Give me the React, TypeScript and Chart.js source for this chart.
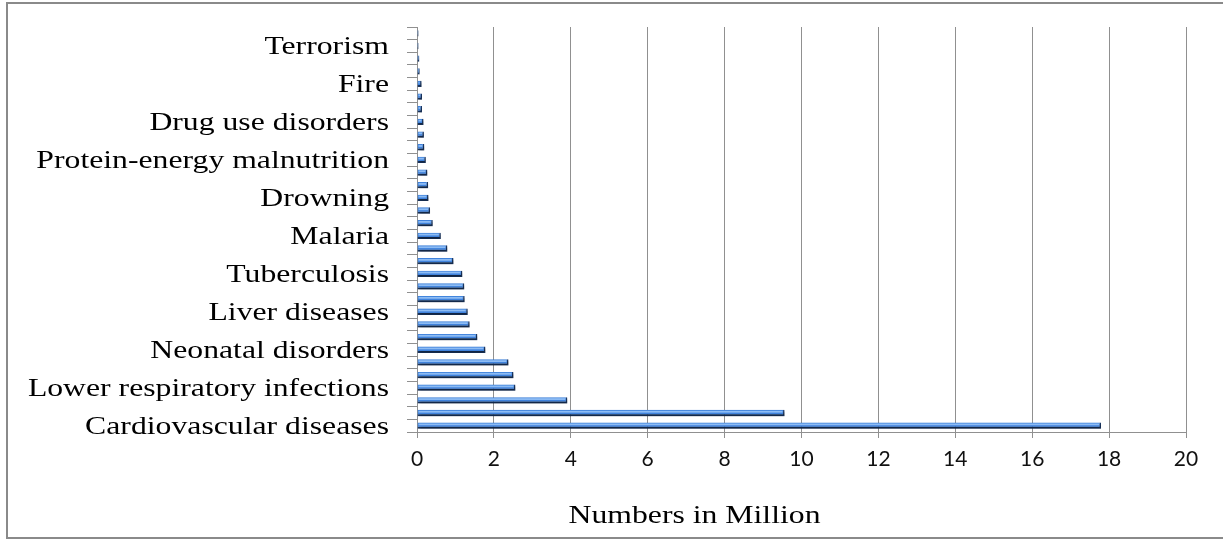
import React, { useEffect, useRef } from "react";
import { Chart, registerables } from "chart.js";

Chart.register(...registerables);

// Causes of death, listed from the bottom bar upwards
const causes = [
  "Cardiovascular diseases",
  "Cancers",
  "Respiratory diseases",
  "Lower respiratory infections",
  "Dementia",
  "Digestive diseases",
  "Neonatal disorders",
  "Diarrheal diseases",
  "Diabetes",
  "Liver diseases",
  "Road injuries",
  "Kidney disease",
  "Tuberculosis",
  "HIV/AIDS",
  "Suicide",
  "Malaria",
  "Homicide",
  "Parkinson disease",
  "Drowning",
  "Meningitis",
  "Nutritional deficiencies",
  "Protein-energy malnutrition",
  "Maternal disorders",
  "Alcohol use disorders",
  "Drug use disorders",
  "Hepatitis",
  "Conflict",
  "Fire",
  "Poisonings",
  "Heat (hot and cold exposure)",
  "Terrorism",
  "Natural disasters",
];

// Deaths per cause, in millions
const deathsMillions = [
  17.79, 9.56, 3.91, 2.56, 2.51, 2.38, 1.78, 1.57, 1.37, 1.32, 1.24, 1.23,
  1.18, 0.95, 0.79, 0.62, 0.41, 0.34, 0.3, 0.29, 0.27, 0.23, 0.19, 0.18, 0.17,
  0.13, 0.13, 0.12, 0.07, 0.06, 0.04, 0.04,
];

// Only every third cause gets a written label on the axis
const labelStep = 3;
const axisTitle = "Numbers in Million";
const xMin = 0;
const xMax = 20;
const xStep = 2;

const SERIF = '"Liberation Serif", "Times New Roman", serif';
const STRETCH = 1.22;
const GRID = "#909090";
const TEXT = "#000000";

const barStyle = {
  id: "barStyle",
  beforeDatasetsDraw(chart: any) {
    const ctx = chart.ctx;
    ctx.save();
    ctx.shadowColor = "rgba(0,0,0,0.45)";
    ctx.shadowBlur = 3;
    ctx.shadowOffsetX = 1.5;
    ctx.shadowOffsetY = 2;
  },
  afterDatasetsDraw(chart: any) {
    const ctx = chart.ctx;
    ctx.restore();
    const meta = chart.getDatasetMeta(0);
    ctx.save();
    meta.data.forEach((el: any) => {
      const p = el.getProps(["x", "y", "base", "height"], true);
      const left = Math.min(p.x, p.base);
      const w = Math.abs(p.x - p.base) - 2;
      if (w <= 1) return;
      const top = p.y - p.height / 2;
      ctx.fillStyle = "rgba(150,194,246,0.9)";
      ctx.fillRect(left + 1, top + 1, w - 1, Math.max(1.5, p.height * 0.28));
    });
    ctx.restore();
  },
};

function stretchedText(ctx: any, text: string, x: number, y: number) {
  ctx.save();
  ctx.translate(x, y);
  ctx.scale(STRETCH, 1);
  ctx.fillText(text, 0, 0);
  ctx.restore();
}

const textLayer = {
  id: "textLayer",
  afterDraw(chart: any) {
    const ctx = chart.ctx;
    const y = chart.scales.y;
    ctx.save();
    ctx.fillStyle = TEXT;
    ctx.font = `26px ${SERIF}`;
    ctx.textAlign = "right";
    ctx.textBaseline = "alphabetic";
    causes.forEach((name, i) => {
      if (i % labelStep !== 0) return;
      stretchedText(ctx, name, 389, y.getPixelForTick(i) + 8.5);
    });
    ctx.textAlign = "center";
    stretchedText(ctx, axisTitle, 694.5, 522.5);
    ctx.restore();
  },
};

export default function App() {
  const canvasRef = useRef<HTMLCanvasElement | null>(null);

  useEffect(() => {
    if (!canvasRef.current) return;
    const chart = new Chart(canvasRef.current, {
      type: "bar",
      data: {
        labels: causes,
        datasets: [
          {
            data: deathsMillions,
            backgroundColor: "#3f82dc",
            borderColor: "#1d3c6c",
            borderWidth: { top: 0, left: 0, right: 1.5, bottom: 2 },
            borderSkipped: false,
            barPercentage: 0.5,
            categoryPercentage: 1,
          },
        ],
      },
      options: {
        indexAxis: "y",
        animation: false,
        responsive: false,
        maintainAspectRatio: false,
        events: [],
        layout: { padding: { top: 27, right: 37, bottom: 0, left: 0 } },
        plugins: {
          legend: { display: false },
          tooltip: { enabled: false },
          title: { display: false },
        },
        scales: {
          x: {
            type: "linear",
            min: xMin,
            max: xMax,
            ticks: {
              stepSize: xStep,
              color: "#111111",
              font: { family: "Lato, 'Open Sans', sans-serif", size: 21 },
              padding: 9,
            },
            grid: {
              color: GRID,
              lineWidth: 1,
              drawTicks: true,
              tickLength: 6,
              tickColor: GRID,
            },
            border: { display: true, color: GRID, width: 1 },
            afterFit(scale: any) {
              scale.height = 107;
            },
          },
          y: {
            type: "category",
            reverse: true,
            offset: true,
            ticks: { display: false },
            grid: {
              offset: true,
              drawOnChartArea: false,
              drawTicks: true,
              tickLength: 10,
              color: GRID,
              tickColor: GRID,
            },
            border: { display: true, color: GRID, width: 1 },
            afterFit(scale: any) {
              scale.width = 417;
            },
          },
        },
      },
      plugins: [barStyle, textLayer],
    });
    return () => chart.destroy();
  }, []);

  return (
    <div
      style={{
        position: "fixed",
        left: 0,
        top: 0,
        width: 1223,
        height: 539,
        overflow: "hidden",
        background: "#ffffff",
      }}
    >
      <div
        style={{
          position: "absolute",
          left: 6,
          top: 2,
          width: 1260,
          height: 537,
          boxSizing: "border-box",
          border: "2px solid #8a8a8a",
        }}
      />
      <canvas
        ref={canvasRef}
        width={1223}
        height={539}
        style={{ position: "absolute", left: 0, top: 0, width: 1223, height: 539 }}
      />
    </div>
  );
}
